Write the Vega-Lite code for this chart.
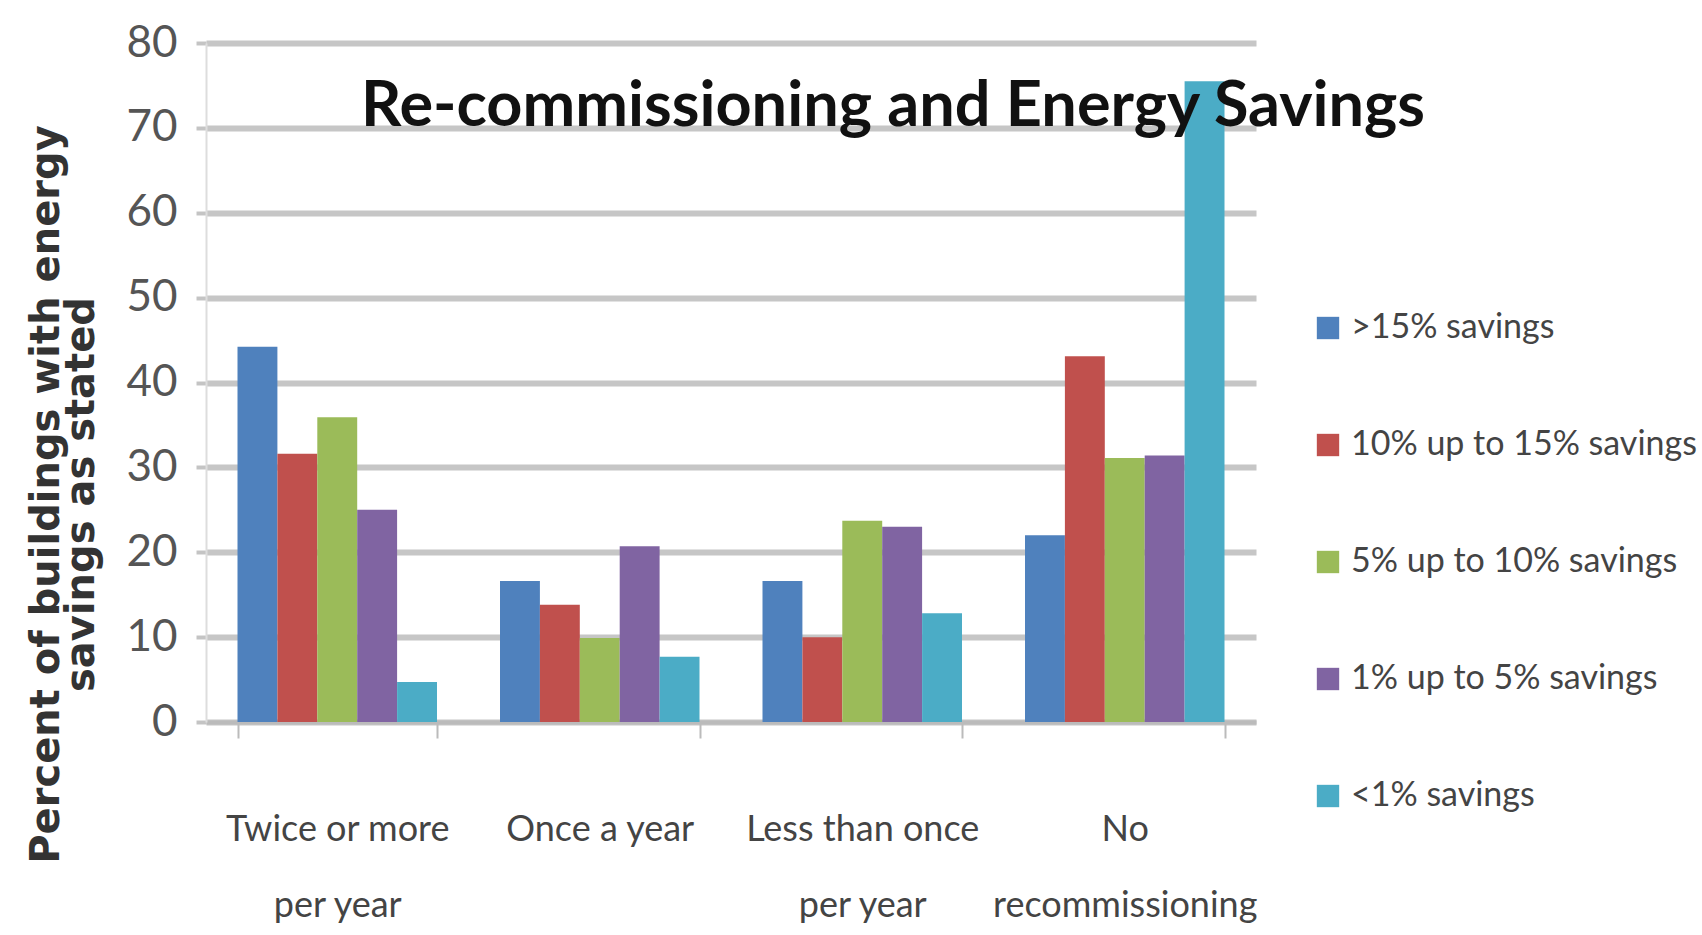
{
  "$schema": "https://vega.github.io/schema/vega-lite/v6.json",
  "autosize": "none",
  "width": 1050,
  "height": 679,
  "padding": {"left": 206, "top": 43, "right": 446, "bottom": 213},
  "background": "white",
  "title": {
    "text": "Re-commissioning and Energy Savings",
    "anchor": "middle",
    "frame": "group",
    "orient": "top",
    "baseline": "alphabetic",
    "offset": 0,
    "dx": 162,
    "dy": 168,
    "font": "Lato, sans-serif",
    "fontSize": 63,
    "fontWeight": "bold",
    "color": "#111111"
  },
  "data": {
    "values": [
      {"freq": "Twice or more per year", "series": ">15% savings", "value": 44.2},
      {"freq": "Twice or more per year", "series": "10% up to 15% savings", "value": 31.6},
      {"freq": "Twice or more per year", "series": "5% up to 10% savings", "value": 35.9},
      {"freq": "Twice or more per year", "series": "1% up to 5% savings", "value": 25.0},
      {"freq": "Twice or more per year", "series": "<1% savings", "value": 4.7},
      {"freq": "Once a year", "series": ">15% savings", "value": 16.6},
      {"freq": "Once a year", "series": "10% up to 15% savings", "value": 13.8},
      {"freq": "Once a year", "series": "5% up to 10% savings", "value": 9.9},
      {"freq": "Once a year", "series": "1% up to 5% savings", "value": 20.7},
      {"freq": "Once a year", "series": "<1% savings", "value": 7.7},
      {"freq": "Less than once per year", "series": ">15% savings", "value": 16.6},
      {"freq": "Less than once per year", "series": "10% up to 15% savings", "value": 10.0},
      {"freq": "Less than once per year", "series": "5% up to 10% savings", "value": 23.7},
      {"freq": "Less than once per year", "series": "1% up to 5% savings", "value": 23.0},
      {"freq": "Less than once per year", "series": "<1% savings", "value": 12.8},
      {"freq": "No recommissioning", "series": ">15% savings", "value": 22.0},
      {"freq": "No recommissioning", "series": "10% up to 15% savings", "value": 43.1},
      {"freq": "No recommissioning", "series": "5% up to 10% savings", "value": 31.1},
      {"freq": "No recommissioning", "series": "1% up to 5% savings", "value": 31.4},
      {"freq": "No recommissioning", "series": "<1% savings", "value": 75.5}
    ]
  },
  "mark": {"type": "bar"},
  "encoding": {
    "x": {
      "field": "freq",
      "type": "nominal",
      "sort": ["Twice or more per year", "Once a year", "Less than once per year", "No recommissioning"],
      "scale": {"paddingInner": 0.24, "paddingOuter": 0.12},
      "axis": {
        "title": null,
        "labelAngle": 0,
        "labelLimit": 0,
        "labelExpr": "datum.value == 'Twice or more per year' ? ['Twice or more', 'per year'] : datum.value == 'Less than once per year' ? ['Less than once', 'per year'] : datum.value == 'No recommissioning' ? ['No', 'recommissioning'] : datum.value",
        "labelFont": "Lato, sans-serif",
        "labelFontSize": 36,
        "labelColor": "#444444",
        "labelLineHeight": 76,
        "labelPadding": 91,
        "labelBaseline": "middle",
        "tickBand": "extent",
        "tickSize": 16,
        "tickColor": "#bbbbbb",
        "tickWidth": 2,
        "domainColor": "#bbbbbb",
        "domainWidth": 4,
        "grid": false
      }
    },
    "xOffset": {
      "field": "series",
      "type": "nominal",
      "sort": [">15% savings", "10% up to 15% savings", "5% up to 10% savings", "1% up to 5% savings", "<1% savings"],
      "scale": {"paddingInner": 0, "paddingOuter": 0}
    },
    "y": {
      "field": "value",
      "type": "quantitative",
      "scale": {"domain": [0, 80], "nice": false},
      "axis": {
        "values": [0, 10, 20, 30, 40, 50, 60, 70, 80],
        "title": ["Percent of buildings with energy", "savings as stated"],
        "titleFont": "DejaVu Sans, sans-serif",
        "titleFontWeight": "bold",
        "titleFontSize": 40,
        "titleColor": "#333333",
        "titleLineHeight": 35,
        "titleAngle": -90,
        "titleAlign": "center",
        "titleBaseline": "top",
        "titleX": -180,
        "titleY": 451,
        "labelFont": "Lato, sans-serif",
        "labelFontSize": 44,
        "labelColor": "#555555",
        "labelPadding": 19,
        "tickSize": 10,
        "tickColor": "#c4c4c4",
        "tickWidth": 4,
        "domainColor": "#dddddd",
        "domainWidth": 2,
        "grid": true,
        "gridColor": "#c6c6c6",
        "gridWidth": 6
      }
    },
    "color": {
      "field": "series",
      "type": "nominal",
      "sort": [">15% savings", "10% up to 15% savings", "5% up to 10% savings", "1% up to 5% savings", "<1% savings"],
      "scale": {
        "domain": [">15% savings", "10% up to 15% savings", "5% up to 10% savings", "1% up to 5% savings", "<1% savings"],
        "range": ["#4F81BD", "#C0504D", "#9BBB59", "#8064A2", "#4BACC6"]
      },
      "legend": {
        "title": null,
        "orient": "none",
        "legendX": 1105,
        "legendY": 268,
        "symbolType": "square",
        "symbolSize": 500,
        "symbolStrokeWidth": 0,
        "labelFont": "Lato, sans-serif",
        "labelFontSize": 34,
        "labelColor": "#444444",
        "labelLimit": 0,
        "labelOffset": 6,
        "rowPadding": 83
      }
    }
  },
  "config": {
    "view": {"stroke": null}
  }
}
